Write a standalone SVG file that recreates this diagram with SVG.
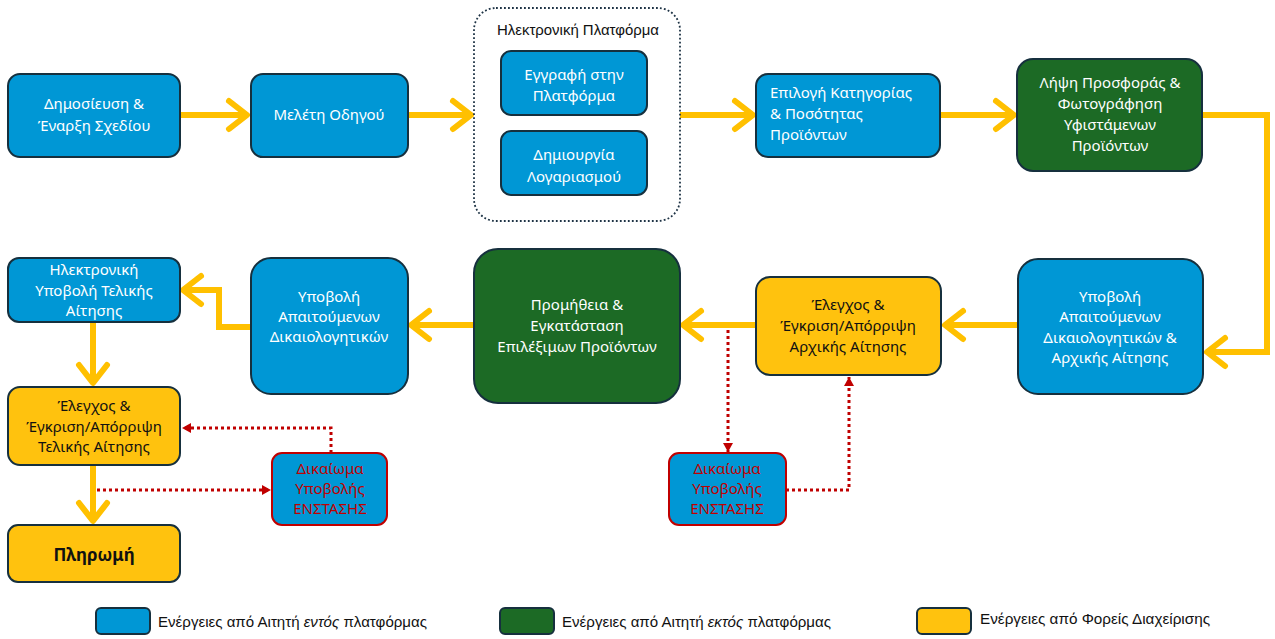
<svg xmlns="http://www.w3.org/2000/svg" width="1275" height="639" viewBox="0 0 1275 639">
<style>
.blue{fill:#0097D5;stroke:#16303E;stroke-width:2}
.green{fill:#1C6A25;stroke:#16303E;stroke-width:2}
.yellow{fill:#FFC20E;stroke:#16303E;stroke-width:2}
.obj{fill:#0097D5;stroke:#C00000;stroke-width:2}
.t{font-family:"Noto Sans","Open Sans",sans-serif;font-size:15px;text-anchor:middle}
.w{fill:#FFFFFF}
.k{fill:#111111}
.r{fill:#C00000}
.flow{fill:none;stroke:#FFC000;stroke-width:6;marker-end:url(#ya)}
.dot{fill:none;stroke:#C00000;stroke-width:3;stroke-dasharray:3 3;marker-end:url(#ra)}
.leg{font-family:"Liberation Sans",Arial,sans-serif;font-size:14.5px;fill:#111}
</style>
<defs>
<marker id="ya" markerUnits="userSpaceOnUse" markerWidth="32" markerHeight="36" refX="24" refY="18" orient="auto" viewBox="0 0 32 36">
<path d="M5,4 L23,18 L5,32" fill="none" stroke="#FFC000" stroke-width="6" stroke-linecap="round" stroke-linejoin="round"/>
</marker>
<marker id="ra" markerUnits="userSpaceOnUse" markerWidth="10" markerHeight="10" refX="9" refY="5" orient="auto" viewBox="0 0 10 10">
<path d="M0,0 L9,5 L0,10 z" fill="#C00000"/>
</marker>
</defs>
<rect width="1275" height="639" fill="#FFFFFF"/>

<g id="connectors">
<path class="flow" d="M180,115 H248"/>
<path class="flow" d="M408,115 H472"/>
<path class="flow" d="M680,115 H754"/>
<path class="flow" d="M940,115 H1015"/>
<path class="flow" d="M1202,115 H1267 V352 H1206"/>
<path class="flow" d="M1018,325 H944"/>
<path class="flow" d="M756,325 H682"/>
<path class="flow" d="M474,325 H410"/>
<path class="flow" d="M251,327 H219 V290 H182"/>
<path class="flow" d="M93,322 V384"/>
<path class="flow" d="M93,465 V522"/>
<path class="dot" d="M97,490 H271"/>
<path class="dot" d="M331,453 V428 H182"/>
<path class="dot" d="M728,330 V452"/>
<path class="dot" d="M786,490 H849 V377"/>
</g>

<g id="n1">
<rect class="blue" x="8" y="74" width="172" height="83" rx="12"/>
<text class="t w" x="94" y="109">Δημοσίευση &amp;</text>
<text class="t w" x="94" y="131">Έναρξη Σχεδίου</text>
</g>
<g id="n2">
<rect class="blue" x="251" y="74" width="157" height="83" rx="12"/>
<text class="t w" x="329" y="120">Μελέτη Οδηγού</text>
</g>
<g id="platform">
<rect x="474" y="8" width="206" height="213" rx="22" fill="#FFFFFF" stroke="#1E3345" stroke-width="1.8" stroke-dasharray="1.8 2.2"/>
<text class="leg" x="497" y="35" textLength="162" lengthAdjust="spacingAndGlyphs">Ηλεκτρονική Πλατφόρμα</text>
</g>
<g id="n3">
<rect class="blue" x="501" y="51" width="146" height="64" rx="10"/>
<text class="t w" x="574" y="80">Εγγραφή στην</text>
<text class="t w" x="574" y="101">Πλατφόρμα</text>
</g>
<g id="n4">
<rect class="blue" x="501" y="131" width="146" height="64" rx="10"/>
<text class="t w" x="574" y="160">Δημιουργία</text>
<text class="t w" x="574" y="182">Λογαριασμού</text>
</g>
<g id="n5">
<rect class="blue" x="756" y="74" width="184" height="83" rx="12"/>
<text class="t w" x="770" y="98" style="text-anchor:start">Επιλογή Κατηγορίας</text>
<text class="t w" x="770" y="119" style="text-anchor:start">&amp; Ποσότητας</text>
<text class="t w" x="770" y="140" style="text-anchor:start">Προϊόντων</text>
</g>
<g id="n6">
<rect class="green" x="1017" y="59" width="185" height="112" rx="16"/>
<text class="t w" x="1110" y="88">Λήψη Προσφοράς &amp;</text>
<text class="t w" x="1110" y="109">Φωτογράφηση</text>
<text class="t w" x="1110" y="130">Υφιστάμενων</text>
<text class="t w" x="1110" y="151">Προϊόντων</text>
</g>
<g id="n7">
<rect class="blue" x="1018" y="259" width="185" height="135" rx="20"/>
<text class="t w" x="1110" y="302">Υποβολή</text>
<text class="t w" x="1110" y="322">Απαιτούμενων</text>
<text class="t w" x="1110" y="343">Δικαιολογητικών &amp;</text>
<text class="t w" x="1110" y="363">Αρχικής Αίτησης</text>
</g>
<g id="n8">
<rect class="yellow" x="756" y="277" width="185" height="98" rx="14"/>
<text class="t k" x="848" y="310">Έλεγχος &amp;</text>
<text class="t k" x="848" y="331">Έγκριση/Απόρριψη</text>
<text class="t k" x="848" y="352">Αρχικής Αίτησης</text>
</g>
<g id="n9">
<rect class="green" x="474" y="249" width="206" height="154" rx="24"/>
<text class="t w" x="577" y="310">Προμήθεια &amp;</text>
<text class="t w" x="577" y="331">Εγκατάσταση</text>
<text class="t w" x="577" y="352">Επιλέξιμων Προϊόντων</text>
</g>
<g id="n10">
<rect class="blue" x="251" y="258" width="157" height="136" rx="20"/>
<text class="t w" x="329" y="302">Υποβολή</text>
<text class="t w" x="329" y="322">Απαιτούμενων</text>
<text class="t w" x="329" y="342">Δικαιολογητικών</text>
</g>
<g id="n11">
<rect class="blue" x="8" y="258" width="172" height="64" rx="11"/>
<text class="t w" x="94" y="275">Ηλεκτρονική</text>
<text class="t w" x="94" y="296">Υποβολή Τελικής</text>
<text class="t w" x="94" y="316">Αίτησης</text>
</g>
<g id="n12">
<rect class="yellow" x="8" y="387" width="172" height="78" rx="12"/>
<text class="t k" x="94" y="411">Έλεγχος &amp;</text>
<text class="t k" x="94" y="432">Έγκριση/Απόρριψη</text>
<text class="t k" x="94" y="452">Τελικής Αίτησης</text>
</g>
<g id="n13">
<rect class="yellow" x="8" y="525" width="172" height="57" rx="10"/>
<text class="t k" x="94" y="561" style="font-weight:bold;font-size:17px">Πληρωμή</text>
</g>
<g id="n14">
<rect class="obj" x="272" y="453" width="115" height="72" rx="10"/>
<text class="t r" x="330" y="474">Δικαίωμα</text>
<text class="t r" x="330" y="494">Υποβολής</text>
<text class="t r" x="330" y="514">ΕΝΣΤΑΣΗΣ</text>
</g>
<g id="n15">
<rect class="obj" x="669" y="453" width="117" height="72" rx="10"/>
<text class="t r" x="727" y="474">Δικαίωμα</text>
<text class="t r" x="727" y="494">Υποβολής</text>
<text class="t r" x="727" y="514">ΕΝΣΤΑΣΗΣ</text>
</g>

<g id="legend">
<rect class="blue" x="96" y="608" width="54" height="26" rx="5"/>
<text class="leg" x="158" y="627" textLength="269" lengthAdjust="spacingAndGlyphs">Ενέργειες από Αιτητή <tspan font-style="italic">εντός</tspan> πλατφόρμας</text>
<rect class="green" x="500" y="608" width="54" height="26" rx="5"/>
<text class="leg" x="562" y="627" textLength="269" lengthAdjust="spacingAndGlyphs">Ενέργειες από Αιτητή <tspan font-style="italic">εκτός</tspan> πλατφόρμας</text>
<rect class="yellow" x="917" y="608" width="54" height="26" rx="5"/>
<text class="leg" x="980" y="624" textLength="230" lengthAdjust="spacingAndGlyphs">Ενέργειες από Φορείς Διαχείρισης</text>
</g>
</svg>
